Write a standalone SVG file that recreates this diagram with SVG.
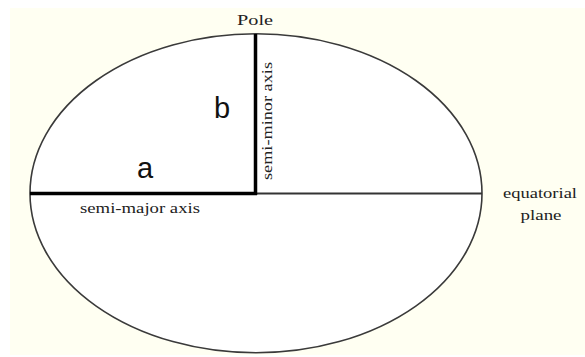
<svg xmlns="http://www.w3.org/2000/svg" width="585" height="357" viewBox="0 0 585 357">
<style>
.serif{font-family:"Liberation Serif","Times New Roman",serif;fill:#222;font-size:15px}
.sans{font-family:"Liberation Sans",Arial,sans-serif;fill:#111;font-size:29px}
.thick{stroke:#000;stroke-width:3.5;fill:none}
</style>
<rect x="0" y="0" width="585" height="357" fill="#ffffff"/>
<rect x="10" y="8" width="575" height="347" fill="#fffff2"/>
<g id="ellipse">
<ellipse cx="256" cy="193.3" rx="226" ry="159.5" fill="#ffffff" stroke="#3a3a3a" stroke-width="1.6"/>
</g>
<g id="connectors">
<line x1="256" y1="193.5" x2="482" y2="193.5" stroke="#333" stroke-width="2.2"/>
<line class="thick" x1="30" y1="193.5" x2="257" y2="193.5"/>
<line class="thick" x1="255.5" y1="34" x2="255.5" y2="195"/>
</g>
<g id="labels">
<text class="serif" x="255" y="25" text-anchor="middle" textLength="36" lengthAdjust="spacingAndGlyphs">Pole</text>
<text class="sans" x="222" y="118" text-anchor="middle">b</text>
<text class="sans" x="145" y="178" text-anchor="middle">a</text>
<text class="serif" x="140" y="213" text-anchor="middle" textLength="120" lengthAdjust="spacingAndGlyphs">semi-major axis</text>
<text class="serif" transform="translate(272,121) rotate(-90)" x="0" y="0" text-anchor="middle" textLength="118" lengthAdjust="spacingAndGlyphs">semi-minor axis</text>
<text class="serif" x="540" y="198" text-anchor="middle" textLength="74" lengthAdjust="spacingAndGlyphs">equatorial</text>
<text class="serif" x="541" y="220" text-anchor="middle" textLength="41" lengthAdjust="spacingAndGlyphs">plane</text>
</g>
</svg>
